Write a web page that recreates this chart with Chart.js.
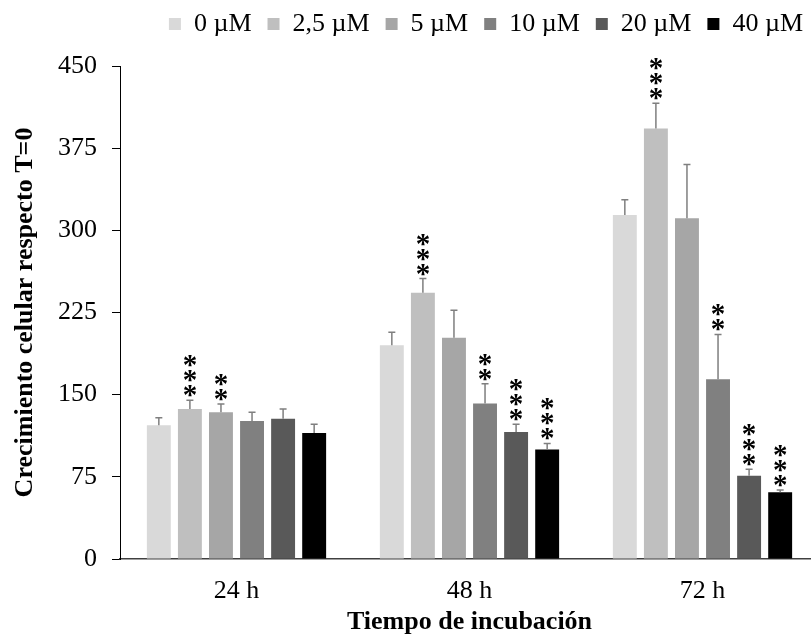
<!DOCTYPE html>
<html lang="es">
<head>
<meta charset="utf-8">
<title>Crecimiento celular</title>
<script src="https://cdn.jsdelivr.net/npm/chart.js@4.4.1/dist/chart.umd.min.js"></script>
<style>
    html, body { margin: 0; padding: 0; background: #fff; overflow: hidden; }
    #wrap { width: 819px; height: 635px; }
</style>
</head>
<body>
<div id="wrap"><canvas id="grafico" width="819" height="635"></canvas></div>
<script>
// Datos
const categorias = ['24 h', '48 h', '72 h'];
const series = ['0 µM', '2,5 µM', '5 µM', '10 µM', '20 µM', '40 µM'];
const colores = ['#d9d9d9', '#bfbfbf', '#a6a6a6', '#808080', '#595959', '#000000'];

const valores0 = [122, 195, 314];
const valores25 = [137, 243, 393];
const valores5 = [134, 202, 311];
const valores10 = [126, 142, 164];
const valores20 = [128, 116, 76];
const valores40 = [115, 100, 61];

// Error (solo hacia arriba)
const error0 = [7, 12, 14];
const error25 = [8, 13, 23];
const error5 = [7.5, 25, 49];
const error10 = [8, 18, 41];
const error20 = [9, 7, 6];
const error40 = [8, 5.5, 2];

// Número de asteriscos sobre cada barra
const sig0 = [0, 0, 0];
const sig25 = [3, 3, 3];
const sig5 = [2, 0, 0];
const sig10 = [0, 2, 2];
const sig20 = [0, 3, 3];
const sig40 = [0, 3, 3];

const ticksY = [0, 75, 150, 225, 300, 375, 450];

const valores = [valores0, valores25, valores5, valores10, valores20, valores40];
const errores = [error0, error25, error5, error10, error20, error40];
const asteriscos = [sig0, sig25, sig5, sig10, sig20, sig40];

Chart.defaults.font.family = '"Liberation Serif", "Times New Roman", serif';
Chart.defaults.color = '#000';

// Barras de error y asteriscos
const erroresPlugin = {
    id: 'errores',
    afterDatasetsDraw(chart) {
        const ctx = chart.ctx;
        const y = chart.scales.y;
        ctx.save();
        chart.data.datasets.forEach((ds, i) => {
            const meta = chart.getDatasetMeta(i);
            meta.data.forEach((bar, j) => {
                const top = y.getPixelForValue(ds.data[j] + errores[i][j]);
                ctx.strokeStyle = '#7f7f7f';
                ctx.lineWidth = 1.5;
                ctx.beginPath();
                ctx.moveTo(bar.x, bar.y);
                ctx.lineTo(bar.x, top);
                ctx.moveTo(bar.x - 3.5, top);
                ctx.lineTo(bar.x + 3.5, top);
                ctx.stroke();

                const n = asteriscos[i][j];
                if (n > 0) {
                    ctx.font = 'bold 29px "Liberation Serif"';
                    ctx.fillStyle = '#000';
                    ctx.textAlign = 'center';
                    ctx.textBaseline = 'alphabetic';
                    const m = ctx.measureText('*');
                    const mid = (m.actualBoundingBoxAscent - m.actualBoundingBoxDescent) / 2;
                    for (let k = 0; k < n; k++) {
                        const cy = top - 9 - k * 15;
                        ctx.fillText('*', bar.x, cy + mid);
                    }
                }
            });
        });
        ctx.restore();
    }
};

const ctx = document.getElementById('grafico').getContext('2d');
new Chart(ctx, {
    type: 'bar',
    data: {
        labels: categorias,
        datasets: series.map((s, i) => ({
            label: s,
            data: valores[i],
            backgroundColor: colores[i],
            borderWidth: 0,
            categoryPercentage: 0.8,
            barPercentage: 0.77
        }))
    },
    options: {
        responsive: false,
        animation: false,
        layout: { padding: { top: -5, left: 0, right: 0, bottom: 0 } },
        plugins: {
            legend: {
                position: 'top',
                align: 'end',
                labels: {
                    boxWidth: 12,
                    boxHeight: 12,
                    padding: 16,
                    font: { size: 26 },
                    color: '#000'
                }
            },
            // espacio entre la leyenda y el área del gráfico
            title: {
                display: true,
                text: '',
                weight: 500,
                padding: 0,
                font: { size: 19, lineHeight: 1 }
            },
            tooltip: { enabled: false }
        },
        scales: {
            x: {
                grid: { display: false, drawTicks: false },
                border: { color: '#404040', width: 1.5 },
                ticks: { font: { size: 26 }, padding: 17, color: '#000' },
                title: {
                    display: true,
                    text: 'Tiempo de incubación',
                    font: { size: 26, weight: 'bold', lineHeight: 1 },
                    padding: { top: 0, bottom: 0 },
                    color: '#000'
                },
                afterFit(scale) { scale.height = 76; }
            },
            y: {
                min: 0,
                max: 450,
                afterBuildTicks(scale) {
                    scale.ticks = ticksY.map(v => ({ value: v }));
                },
                grid: {
                    drawOnChartArea: false,
                    drawTicks: true,
                    tickLength: 8,
                    tickColor: '#000'
                },
                border: { color: '#000', width: 1 },
                ticks: { font: { size: 26 }, padding: 15, color: '#000' },
                title: {
                    display: true,
                    text: 'Crecimiento celular respecto T=0',
                    font: { size: 26, weight: 'bold' },
                    padding: { top: 10, bottom: 0 },
                    color: '#000'
                },
                afterFit(scale) { scale.width = 120; }
            }
        }
    },
    plugins: [erroresPlugin]
});
</script>
</body>
</html>
